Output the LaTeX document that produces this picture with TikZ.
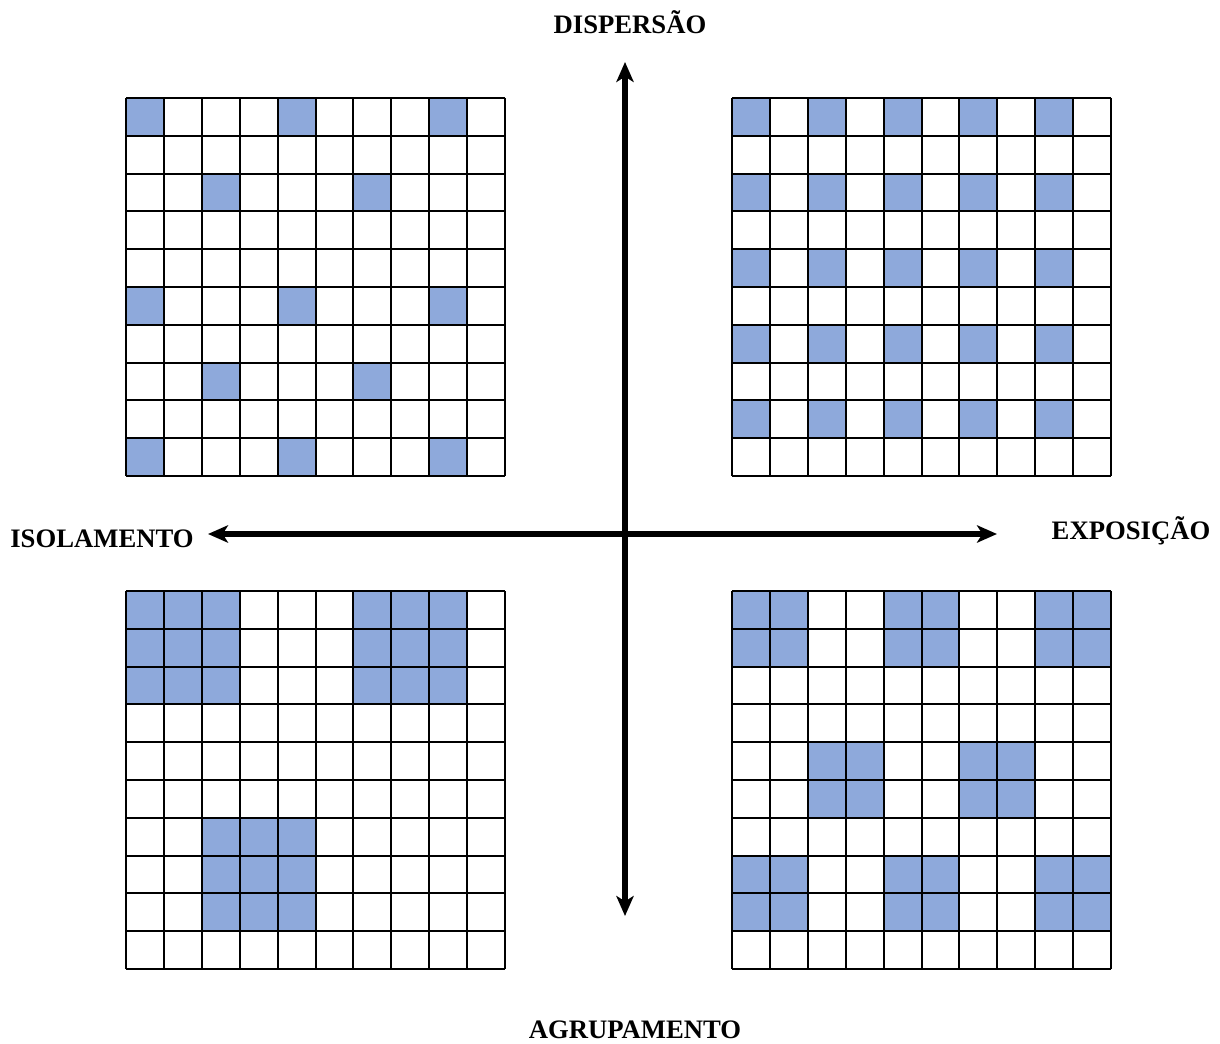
\documentclass[tikz,border=0pt]{standalone}
\usepackage{fontspec}
\setmainfont{Liberation Serif}
\usetikzlibrary{arrows.meta}
\definecolor{cellblue}{HTML}{8EA9DB}
\begin{document}
\begin{tikzpicture}[x=0.75pt,y=-0.75pt,
  gridline/.style={line width=1.5pt},
  cellfill/.style={fill=cellblue},
  axisline/.style={line width=3.9pt,{Stealth[length=15pt,width=13pt,inset=4pt]}-{Stealth[length=15pt,width=13pt,inset=4pt]}},
  lbl/.style={font=\fontsize{20}{24}\selectfont\bfseries, inner sep=0pt}]
\useasboundingbox (0,0) rectangle (1220,1044);
\def\cw{37.9}
\def\ch{37.8}
% top-left grid
\foreach \r/\c in {0/0,0/4,0/8,2/2,2/6,5/0,5/4,5/8,7/2,7/6,9/0,9/4,9/8}
  \fill[cellfill] (126+\cw*\c,98+\ch*\r) rectangle ++(\cw,\ch);
% top-right grid
\foreach \r in {0,2,4,6,8} \foreach \c in {0,2,4,6,8}
  \fill[cellfill] (732+\cw*\c,98+\ch*\r) rectangle ++(\cw,\ch);
% bottom-left grid
\foreach \r in {0,1,2} \foreach \c in {0,1,2,6,7,8}
  \fill[cellfill] (126+\cw*\c,591+\ch*\r) rectangle ++(\cw,\ch);
\foreach \r in {6,7,8} \foreach \c in {2,3,4}
  \fill[cellfill] (126+\cw*\c,591+\ch*\r) rectangle ++(\cw,\ch);
% bottom-right grid
\foreach \r in {0,1,7,8} \foreach \c in {0,1,4,5,8,9}
  \fill[cellfill] (732+\cw*\c,591+\ch*\r) rectangle ++(\cw,\ch);
\foreach \r in {4,5} \foreach \c in {2,3,6,7}
  \fill[cellfill] (732+\cw*\c,591+\ch*\r) rectangle ++(\cw,\ch);
% grid lines
\foreach \X/\Y in {126/98,732/98,126/591,732/591}
  \foreach \i in {0,...,10} {
    \draw[gridline] (\X+\cw*\i,\Y) -- (\X+\cw*\i,\Y+\ch*10);
    \draw[gridline] (\X,\Y+\ch*\i) -- (\X+\cw*10,\Y+\ch*\i);
  }
% axes
\coordinate (top) at (625,62);
\coordinate (bottom) at (625,916);
\coordinate (left) at (208,534);
\coordinate (right) at (997,534);
\draw[axisline] (bottom) -- (top);
\draw[axisline] (left) -- (right);
% labels
\node[lbl] (disp) at (630,22) {DISPERSÃO};
\node[lbl] (iso) at (102,539) {ISOLAMENTO};
\node[lbl] (expo) at (1131,531) {EXPOSIÇÃO};
\node[lbl] (agru) at (635,1030) {AGRUPAMENTO};
\end{tikzpicture}
\end{document}
